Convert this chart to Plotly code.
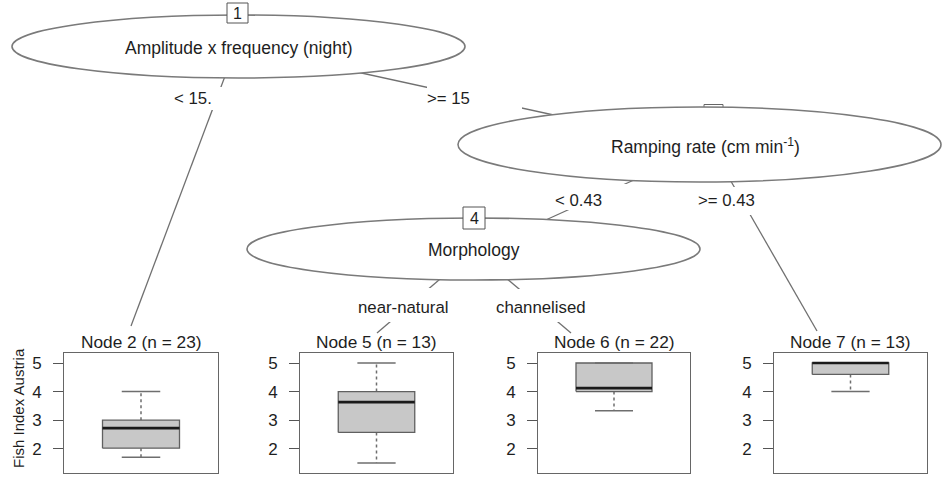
import plotly.graph_objects as go

# ---------------- data ----------------
node_names = ["Node 2", "Node 5", "Node 6", "Node 7"]
node_n = [23, 13, 22, 13]
q1 = [2.02, 2.57, 4.00, 4.60]
median = [2.72, 3.63, 4.12, 5.00]
q3 = [3.00, 4.00, 5.00, 5.00]
whisker_low = [1.70, 1.50, 3.33, 4.00]
whisker_high = [4.00, 5.00, 5.00, 5.00]
y_ticks = [2, 3, 4, 5]
y_title = "Fish Index Austria"

split_labels = ["Amplitude x frequency (night)", "Ramping rate (cm min<sup>-1</sup>)", "Morphology"]
split_ids = ["1", "3", "4"]
edge_labels = ["< 15.", ">= 15", "< 0.43", ">= 0.43", "near-natural", "channelised"]

# ---------------- layout constants (pixel space) ----------------
W, H = 942, 477
FONT = "Liberation Sans, Arial, sans-serif"
TXT = "#1e1e1e"
LINE = "#707070"

# inner node ellipses (x0, x1, y0, y1)
ellipses = [(12, 465, 15, 78), (458, 941, 107, 182), (247, 700, 218, 280)]
id_boxes = [(227, 248, 3, 23), (704, 723, 104.5, 125), (463, 485, 207, 229)]
# edges: (x0, y0, x1, y1)
edges = [(236, 47, 131, 326), (238, 46, 700, 147), (700, 150, 473, 253),
         (713, 150, 817, 331), (474, 250, 377, 333), (473, 250, 571, 333)]
edge_gaps = [(160, 230, 87, 110), (427, 522, 86, 109), (558, 628, 184, 210),
             (700, 758, 187, 215), (385, 436, 288, 322), (517, 561, 289, 322)]
edge_label_pos = [(193, 98), (448, 98), (578, 200), (726, 200), (403, 307), (541, 307)]
# terminal panels: x range in px, y range in px
panels_x = [(64, 218), (300, 453), (538, 690), (774, 927)]
panel_y = (353, 473)

fig = go.Figure()
# dummy trace to create the main pixel axes
fig.add_trace(go.Scatter(x=[0], y=[0], mode="markers", marker=dict(opacity=0),
                         xaxis="x", yaxis="y", showlegend=False, hoverinfo="skip"))

shapes = []
for (x0, y0, x1, y1) in edges:
    shapes.append(dict(type="line", xref="x", yref="y", x0=x0, y0=y0, x1=x1, y1=y1,
                       line=dict(color=LINE, width=1.3)))
for (x0, x1, y0, y1) in edge_gaps:
    shapes.append(dict(type="rect", xref="x", yref="y", x0=x0, x1=x1, y0=y0, y1=y1,
                       fillcolor="white", line=dict(width=0)))
# hidden id box of node 3 (drawn before ellipse so it is mostly covered)
bx = id_boxes[1]
shapes.append(dict(type="rect", xref="x", yref="y", x0=bx[0], x1=bx[1], y0=bx[2], y1=bx[3],
                   fillcolor="white", line=dict(color="#666", width=1)))
for (x0, x1, y0, y1) in ellipses:
    shapes.append(dict(type="circle", xref="x", yref="y", x0=x0, x1=x1, y0=y0, y1=y1,
                       fillcolor="white", line=dict(color="#7a7a7a", width=1.6)))
for i in (0, 2):
    bx = id_boxes[i]
    shapes.append(dict(type="rect", xref="x", yref="y", x0=bx[0], x1=bx[1], y0=bx[2], y1=bx[3],
                       fillcolor="white", line=dict(color="#555", width=1)))

annotations = []
for i, (x0, x1, y0, y1) in enumerate(ellipses):
    cx = (x0 + x1) / 2 + (6 if i == 1 else 0)
    annotations.append(dict(x=cx, y=(y0 + y1) / 2 + 1, xref="x", yref="y", text=split_labels[i],
                            showarrow=False, font=dict(family=FONT, size=17.5, color=TXT)))
for i in (0, 2):
    bx = id_boxes[i]
    annotations.append(dict(x=(bx[0] + bx[1]) / 2, y=(bx[2] + bx[3]) / 2, xref="x", yref="y",
                            text=split_ids[i], showarrow=False,
                            font=dict(family=FONT, size=16, color=TXT)))
for lab, (x, y) in zip(edge_labels, edge_label_pos):
    annotations.append(dict(x=x, y=y, xref="x", yref="y", text=lab, showarrow=False,
                            font=dict(family=FONT, size=16.8, color=TXT)))

layout = dict(
    width=W, height=H, autosize=False,
    margin=dict(l=0, r=0, t=0, b=0, pad=0),
    paper_bgcolor="white", plot_bgcolor="white",
    showlegend=False,
    xaxis=dict(domain=[0, 1], range=[0, W], visible=False, fixedrange=True),
    yaxis=dict(domain=[0, 1], range=[H, 0], visible=False, fixedrange=True),
)

ymin = min(whisker_low)
ymax = max(whisker_high)
pad = 0.1 * (ymax - ymin)
for k in range(len(node_names)):
    xa = "x%d" % (k + 2)
    ya = "y%d" % (k + 2)
    px0, px1 = panels_x[k]
    layout["xaxis%d" % (k + 2)] = dict(
        domain=[px0 / W, px1 / W], range=[0, 1], anchor=ya,
        showline=True, mirror=True, linecolor="#666", linewidth=1,
        showticklabels=False, ticks="", showgrid=False, zeroline=False, fixedrange=True)
    layout["yaxis%d" % (k + 2)] = dict(
        domain=[1 - panel_y[1] / H, 1 - panel_y[0] / H], range=[ymin - pad, ymax + pad],
        anchor=xa, showline=True, mirror=True, linecolor="#666", linewidth=1,
        tickvals=y_ticks, ticktext=[str(t) for t in y_ticks], ticks="outside", ticklen=10,
        tickcolor="#555", tickwidth=1.2, ticklabelstandoff=8,
        tickfont=dict(family=FONT, size=17, color=TXT),
        showgrid=False, zeroline=False, fixedrange=True)

    # whiskers
    fig.add_trace(go.Scatter(x=[0.5, 0.5, None, 0.5, 0.5],
                             y=[q3[k], whisker_high[k], None, q1[k], whisker_low[k]],
                             mode="lines", line=dict(color="#6e6e6e", width=1.5, dash="3px,3px"),
                             xaxis=xa, yaxis=ya, hoverinfo="skip"))
    # box
    fig.add_trace(go.Scatter(x=[0.25, 0.75, 0.75, 0.25, 0.25],
                             y=[q1[k], q1[k], q3[k], q3[k], q1[k]],
                             mode="lines", fill="toself", fillcolor="#c8c8c8",
                             line=dict(color="#606060", width=1.3),
                             xaxis=xa, yaxis=ya, hoverinfo="skip"))
    # caps
    fig.add_trace(go.Scatter(x=[0.375, 0.625, None, 0.375, 0.625],
                             y=[whisker_high[k], whisker_high[k], None, whisker_low[k], whisker_low[k]],
                             mode="lines", line=dict(color="#6e6e6e", width=1.5),
                             xaxis=xa, yaxis=ya, hoverinfo="skip"))
    # median
    fig.add_trace(go.Scatter(x=[0.25, 0.75], y=[median[k], median[k]], mode="lines",
                             line=dict(color="#1a1a1a", width=2.6),
                             xaxis=xa, yaxis=ya, hoverinfo="skip"))
    annotations.append(dict(x=(px0 + px1) / 2, y=342, xref="x", yref="y",
                            text="%s (n = %d)" % (node_names[k], node_n[k]), showarrow=False,
                            font=dict(family=FONT, size=17.3, color=TXT)))

annotations.append(dict(x=18, y=408, xref="x", yref="y", text=y_title, textangle=-90,
                        showarrow=False, font=dict(family=FONT, size=15, color=TXT)))

layout["shapes"] = shapes
layout["annotations"] = annotations
fig.update_layout(**layout)
fig.write_html("out.html", config={"displayModeBar": False},
               post_script="document.body.style.margin='0';document.body.style.padding='0';")
